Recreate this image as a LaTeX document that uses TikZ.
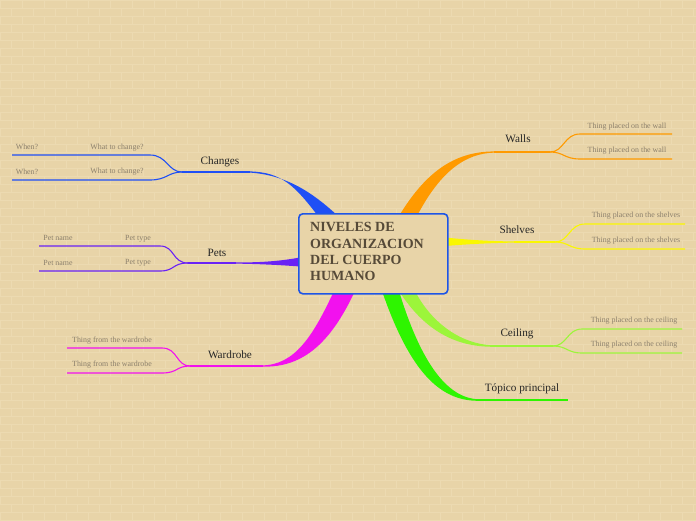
\documentclass[tikz,border=0pt]{standalone}
\usepackage{fontspec}
\setmainfont{Liberation Serif}
\definecolor{bg}{HTML}{E8D4A8}
\definecolor{mortar}{HTML}{ECDAB1}
\definecolor{cblue}{HTML}{1F4FF5}
\definecolor{cpurple}{HTML}{6A22F5}
\definecolor{cmag}{HTML}{F211EE}
\definecolor{corange}{HTML}{FF9A00}
\definecolor{cyellow}{HTML}{FAF700}
\definecolor{clime}{HTML}{9CF53A}
\definecolor{cgreen}{HTML}{2EF500}
\definecolor{boxblue}{HTML}{1E55E6}
\definecolor{titlecol}{HTML}{564A38}
\definecolor{subcol}{HTML}{8C806C}
\tikzset{
  x=1pt,y=-1pt,
  mainlbl/.style={font=\fontsize{11.2}{13}\selectfont, text=black!85, inner sep=0},
  sublbl/.style={font=\fontsize{7.9}{9}\selectfont, text=subcol, inner sep=0},
  subline/.style={line width=1.1pt},
  hline/.style={line width=1.4pt},
}
\begin{document}
\begin{tikzpicture}
\useasboundingbox (0,0) rectangle (696,520);
\fill[bg] (0,0) rectangle (696,520);
% bricks
\foreach \r in {0,...,65}{
  \draw[mortar,line width=0.5pt] (0,\r*8) -- (696,\r*8);
  \pgfmathsetmacro{\off}{mod(\r,2)*11}
  \foreach \c in {0,...,32}{
    \draw[mortar,line width=0.5pt] (\c*22+\off,\r*8) -- (\c*22+\off,\r*8+8);
  }
}
% ---------- coordinates
\coordinate (jch) at (182,172);
\coordinate (jpe) at (188,263);
\coordinate (jwa) at (190,366);
\coordinate (jwl) at (550,152);
\coordinate (jsh) at (555,242);
\coordinate (jce) at (553,346);
\coordinate (tpe) at (568,400);
% ---------- thick tapered branches
% Changes
\fill[cblue] (318,216) .. controls (295,186) and (282,172.3) .. (250,171.4) -- (250,172.6) .. controls (286,175) and (312,192) .. (338,216) -- cycle;
\draw[cblue,hline] (jch) -- (250,172);
% Pets
\fill[cpurple] (300,257.5) .. controls (275,262) and (255,262.5) .. (235,262.4) -- (235,263.6) .. controls (260,264) and (280,265) .. (300,266.5) -- cycle;
\draw[cpurple,hline] (jpe) -- (236,263);
% Wardrobe
\fill[cmag] (334,291) .. controls (313,336) and (295,365) .. (262,365.4) -- (262,366.6) .. controls (305,368) and (332,340) .. (355,291) -- cycle;
\draw[cmag,hline] (jwa) -- (263,366);
% Walls
\fill[corange] (399,216) .. controls (428,168) and (458,151.4) .. (495,151.4) -- (495,152.6) .. controls (465,153) and (440,172) .. (417,216) -- cycle;
\draw[corange,hline] (494,152) -- (jwl);
% Shelves
\fill[cyellow] (445,237.5) .. controls (470,240) and (490,241.3) .. (515,241.4) -- (515,242.6) .. controls (490,243) and (470,244) .. (445,246) -- cycle;
\draw[cyellow,hline] (514,242) -- (jsh);
% Tópico principal
\fill[cgreen] (382,291) .. controls (410,372) and (440,400.8) .. (478,400.8) -- (478,399.2) .. controls (446,398) and (420,360) .. (399,291) -- cycle;
\draw[cgreen,hline] (476,400) -- (tpe);
% Ceiling
\fill[clime] (399,291) .. controls (424,330) and (455,346.7) .. (492,346.7) -- (492,345.3) .. controls (462,344) and (432,324) .. (415,291) -- cycle;
\draw[clime,hline] (490,346) -- (jce);
% ---------- sub branches
% Changes
\draw[cblue,subline] (jch) .. controls (168,172) and (167,155) .. (150,155) -- (12,155);
\draw[cblue,subline] (jch) .. controls (168,172) and (167,180) .. (150,180) -- (12,180);
% Pets
\draw[cpurple,subline] (jpe) .. controls (172,263) and (175,246) .. (160,246) -- (39,246);
\draw[cpurple,subline] (jpe) .. controls (172,263) and (175,271) .. (160,271) -- (39,271);
% Wardrobe
\draw[cmag,subline] (jwa) .. controls (176,366) and (178,348) .. (162,348) -- (67,348);
\draw[cmag,subline] (jwa) .. controls (176,366) and (178,373) .. (162,373) -- (67,373);
% Walls
\draw[corange,subline] (jwl) .. controls (564,152) and (564,134) .. (580,134) -- (672,134);
\draw[corange,subline] (jwl) .. controls (564,152) and (564,159) .. (580,159) -- (672,159);
% Shelves
\draw[cyellow,subline] (jsh) .. controls (569,242) and (569,224) .. (585,224) -- (685,224);
\draw[cyellow,subline] (jsh) .. controls (569,242) and (569,249) .. (585,249) -- (685,249);
% Ceiling
\draw[clime,subline] (jce) .. controls (567,346) and (567,329) .. (582,329) -- (682,329);
\draw[clime,subline] (jce) .. controls (567,346) and (567,353) .. (582,353) -- (682,353);
% ---------- central box
\node[draw=boxblue, line width=1.6pt, fill=bg, rounded corners=4pt, minimum width=149pt, minimum height=80pt, inner sep=0, anchor=north west] (root) at (298,213) {};
\node[anchor=north west, inner sep=0, align=left, text=titlecol, font=\bfseries\fontsize{14}{16.2}\selectfont] (title) at (310,222.5) {NIVELES DE\\ORGANIZACION\\DEL CUERPO\\HUMANO};
% ---------- labels
\node[mainlbl] (lch) at (220,162) {Changes};
\node[mainlbl] (lpe) at (217,253) {Pets};
\node[mainlbl] (lwa) at (230,355) {Wardrobe};
\node[mainlbl] (lwl) at (518,139) {Walls};
\node[mainlbl] (lsh) at (517,229.5) {Shelves};
\node[mainlbl] (lce) at (517,334) {Ceiling};
\node[mainlbl] (ltp) at (522,389) {Tópico principal};
\node[sublbl] (a1) at (27,146.5) {When?};
\node[sublbl] (a2) at (117,147.5) {What to change?};
\node[sublbl] (a3) at (27,171.5) {When?};
\node[sublbl] (a4) at (117,171.5) {What to change?};
\node[sublbl] (b1) at (58,238) {Pet name};
\node[sublbl] (b2) at (138,238.5) {Pet type};
\node[sublbl] (b3) at (58,262.5) {Pet name};
\node[sublbl] (b4) at (138,263) {Pet type};
\node[sublbl] (c1) at (112,340.5) {Thing from the wardrobe};
\node[sublbl] (c2) at (112,364.5) {Thing from the wardrobe};
\node[sublbl] (d1) at (627,127) {Thing placed on the wall};
\node[sublbl] (d2) at (627,151) {Thing placed on the wall};
\node[sublbl] (e1) at (636,215.5) {Thing placed on the shelves};
\node[sublbl] (e2) at (636,240.5) {Thing placed on the shelves};
\node[sublbl] (f1) at (634,320.5) {Thing placed on the ceiling};
\node[sublbl] (f2) at (634,344.5) {Thing placed on the ceiling};
\end{tikzpicture}
\end{document}
